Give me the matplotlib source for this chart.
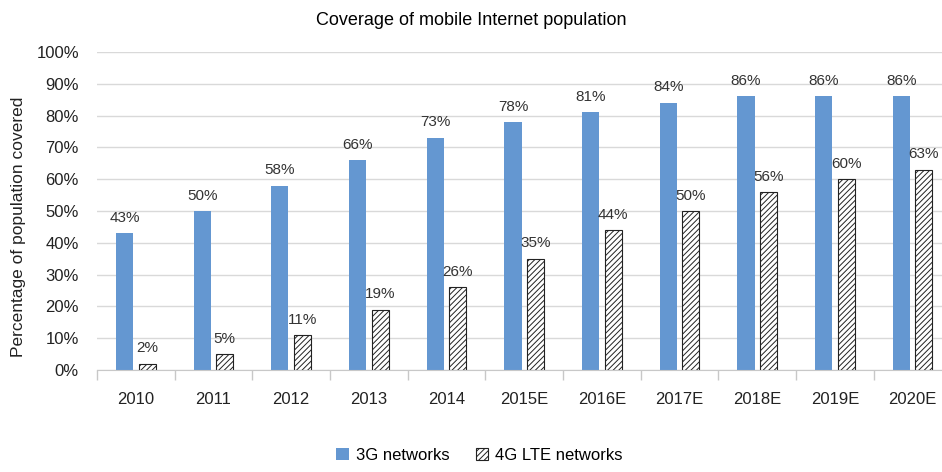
import numpy as np
import matplotlib
matplotlib.use('Agg')
import matplotlib.pyplot as plt
from matplotlib.ticker import PercentFormatter

years = ['2010', '2011', '2012', '2013', '2014', '2015E', '2016E',
         '2017E', '2018E', '2019E', '2020E']
cov_3g = [43, 50, 58, 66, 73, 78, 81, 84, 86, 86, 86]
cov_4g = [2, 5, 11, 19, 26, 35, 44, 50, 56, 60, 63]

plt.rcParams['font.family'] = ['Liberation Sans', 'DejaVu Sans']
plt.rcParams['hatch.linewidth'] = 0.7

fig = plt.figure(figsize=(9.42, 4.72), dpi=100)
ax = fig.add_axes([0.103, 0.216, 0.907, 0.674])

x = np.arange(len(years))
w = 0.22
off = 0.145
b1 = ax.bar(x - off, cov_3g, w, color='#6497d1', label='3G networks', zorder=3)
b2 = ax.bar(x + off, cov_4g, w, color='white', edgecolor='#222222', linewidth=0.8,
            hatch='//////', label='4G LTE networks', zorder=3)

# value labels above every bar
for rect, v in zip(list(b1) + list(b2), cov_3g + cov_4g):
    ax.annotate(f'{v}%', (rect.get_x() + rect.get_width() / 2, rect.get_height()),
                xytext=(0, 6), textcoords='offset points', ha='center', va='bottom',
                fontsize=11, color='#333333')

ax.set_xlim(-0.5, len(years) - 0.5)
ax.set_ylim(0, 100)
ax.set_yticks(np.arange(0, 101, 10))
ax.yaxis.set_major_formatter(PercentFormatter(decimals=0))
ax.set_xticks(x)
ax.set_xticklabels(years)
ax.set_xticks(np.arange(-0.5, len(years), 1), minor=True)
ax.tick_params(axis='x', which='major', length=0, pad=16, labelsize=12, colors='#222222')
ax.tick_params(axis='x', which='minor', length=7, color='#c8c8c8', width=1)
ax.tick_params(axis='y', length=0, labelsize=12, colors='#222222', pad=13)
ax.grid(axis='y', color='#d9d9d9', linewidth=1, zorder=0)
for s in ['top', 'right', 'left']:
    ax.spines[s].set_visible(False)
ax.spines['bottom'].set_color('#c8c8c8')
ax.spines['bottom'].set_zorder(4)

ax.set_ylabel('Percentage of population covered', fontsize=12.5, color='#222222')
ax.yaxis.set_label_coords(-0.083, 0.45)
fig.suptitle('Coverage of mobile Internet population', fontsize=13, y=0.975, x=0.5)

fig.legend(handles=[b1, b2], loc='lower center', bbox_to_anchor=(0.509, -0.012), ncol=2,
           frameon=False, fontsize=12, handlelength=0.75, handleheight=0.75,
           handletextpad=0.4, columnspacing=1.6)

fig.savefig('out.png', dpi=100)
